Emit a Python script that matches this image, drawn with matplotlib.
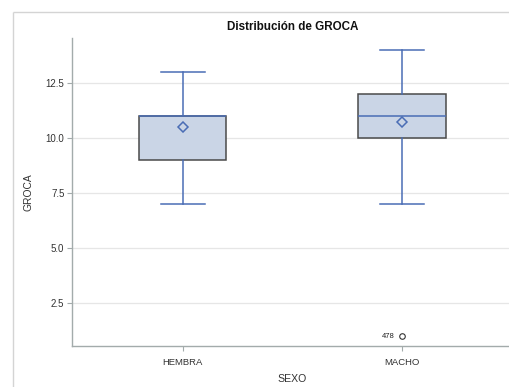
import matplotlib
matplotlib.use("Agg")
import matplotlib.pyplot as plt
from matplotlib.lines import Line2D

# Summary statistics of GROCA by SEXO
categories = ["HEMBRA", "MACHO"]
whisker_low = [7, 7]
q1 = [9, 10]
median = [11, 11]
q3 = [11, 12]
whisker_high = [13, 14]
means = [10.5, 10.7]
outlier_values = [[], [1]]
outlier_ids = [[], ["478"]]
y_ticks = [2.5, 5.0, 7.5, 10.0, 12.5]

plt.rcParams["font.family"] = ["Liberation Sans", "DejaVu Sans"]

W, H = 509, 387
fig = plt.figure(figsize=(W / 100, H / 100), dpi=100)

# outer frame of the graph area (left and top edges)
fx, fy = 12.5 / W, 1 - 11.5 / H
frame_left = Line2D([fx, fx], [0.0, fy], transform=fig.transFigure,
                    color="#d4d4d4", linewidth=1.0, solid_capstyle="butt")
frame_top = Line2D([fx, 1.0], [fy, fy], transform=fig.transFigure,
                   color="#d4d4d4", linewidth=1.0, solid_capstyle="butt")
fig.add_artist(frame_left)
fig.add_artist(frame_top)

ax = fig.add_axes([72 / W, 1 - 346 / H, (512.5 - 72) / W, (346 - 38) / H])

blue = "#4a6db5"
stats = []
for i, name in enumerate(categories):
    stats.append(dict(label=name, whislo=whisker_low[i], q1=q1[i], med=median[i],
                      q3=q3[i], whishi=whisker_high[i], mean=means[i],
                      fliers=outlier_values[i]))

positions = list(range(len(categories)))
ax.bxp(stats, positions=positions, widths=0.40, patch_artist=True,
       showmeans=True, showfliers=True,
       boxprops=dict(facecolor="#cad5e6", edgecolor="#4a4a4a", linewidth=1.1),
       medianprops=dict(color=blue, linewidth=1.1),
       whiskerprops=dict(color=blue, linewidth=1.1),
       capprops=dict(color=blue, linewidth=1.1),
       capwidths=0.2,
       meanprops=dict(marker="D", markerfacecolor="none", markeredgecolor=blue,
                      markersize=5, markeredgewidth=1.1),
       flierprops=dict(marker="o", markerfacecolor="none", markeredgecolor="#333333",
                       markersize=4, markeredgewidth=0.8))

for i, (vals, ids) in enumerate(zip(outlier_values, outlier_ids)):
    for v, t in zip(vals, ids):
        ax.annotate(t, (positions[i], v), xytext=(-5, 0), textcoords="offset points",
                    ha="right", va="center", fontsize=5.5, color="#222222")

ax.set_xlim(-0.504, 1.504)
ax.set_ylim(0.56, 14.53)
ax.set_yticks(y_ticks)
ax.set_yticklabels([f"{v:.1f}" for v in y_ticks])
ax.set_xticks(positions)
ax.set_xticklabels(categories)

ax.grid(axis="y", color="#e6e6e6", linewidth=0.9)
ax.set_axisbelow(True)

for side in ["top", "right"]:
    ax.spines[side].set_visible(False)
for side in ["left", "bottom"]:
    ax.spines[side].set_color("#a3abab")
    ax.spines[side].set_linewidth(1.0)
ax.tick_params(axis="both", colors="#a3abab", labelcolor="#333333",
               labelsize=6.8, length=3.5, width=0.8)
ax.tick_params(axis="y", labelsize=7.0, pad=2)
ax.tick_params(axis="x", pad=5)

ax.set_title("Distribución de GROCA", fontsize=8.4, fontweight="bold",
             color="#111111", pad=6, x=(293 - 72) / (512.5 - 72))
ax.set_ylabel("GROCA", fontsize=7.4, color="#333333", labelpad=9)
ax.set_xlabel("SEXO", fontsize=7.6, color="#333333", labelpad=5)

fig.savefig("out.png", dpi=100)
